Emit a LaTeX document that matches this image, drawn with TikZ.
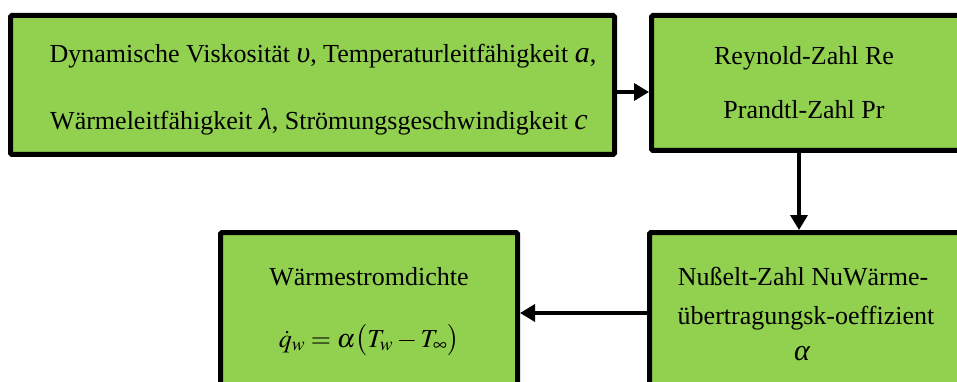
\documentclass[tikz,border=0pt]{standalone}
\usepackage{mathptmx}
\usepackage{fontspec}
\setmainfont{Liberation Serif}
\usetikzlibrary{arrows.meta}
\definecolor{boxgreen}{HTML}{92D050}
\tikzset{
  box/.style={draw=black, fill=boxgreen, line width=5pt, rounded corners=1.5pt},
  arr/.style={draw=black, line width=3.5pt, -{Triangle[length=15pt,width=17pt]}},
  lbl/.style={anchor=base, inner sep=0pt, font=\fontsize{26}{30}\selectfont},
}
\newcommand{\mv}[1]{{\fontsize{30}{30}\selectfont\itshape #1}}
\begin{document}
\begin{tikzpicture}[x=1pt,y=-1pt]
\useasboundingbox (0,0) rectangle (957,382);
\begin{scope}
\clip (0,0) rectangle (957,382);
% boxes
\draw[box] (10.5,15.5) rectangle (614.5,154.5);
\draw[box] (651.5,15.5) rectangle (975,150.5);
\draw[box] (649.5,232.5) rectangle (975,400);
\draw[box] (220.5,232.5) rectangle (517.5,400);
\end{scope}
% named anchors of boxes
\coordinate (b1e) at (617,92);
\coordinate (b2w) at (649,92);
\coordinate (b2s) at (799,153);
\coordinate (b3n) at (799,230);
\coordinate (b3w) at (647,313);
\coordinate (b4e) at (520,313);
% texts
\node[lbl] (t1) at (323,63) {Dynamische Viskosität \mv{υ}, Temperaturleitfähigkeit \mv{a},};
\node[lbl] (t2) at (319,130) {Wärmeleitfähigkeit \mv{λ}, Strömungsgeschwindigkeit \mv{c}};
\node[lbl] (t3) at (804,65) {Reynold-Zahl Re};
\node[lbl] (t4) at (804,119) {Prandtl-Zahl Pr};
\node[lbl] (t5) at (803,285) {Nußelt-Zahl NuWärme-};
\node[lbl] (t6) at (806,324) {übertragungsk-oeffizient};
\node[lbl] (t7) at (802,360) {\mv{α}};
\node[lbl] (t8) at (369,285) {Wärmestromdichte};
\node[lbl] (t9) at (369,347) {$\dot{q}_w=\alpha\bigl(T_w-T_\infty\bigr)$};
% connectors
\draw[arr] (b1e) -- (b2w);
\draw[arr] (b2s) -- (b3n);
\draw[arr] (b3w) -- (b4e);
\end{tikzpicture}
\end{document}
